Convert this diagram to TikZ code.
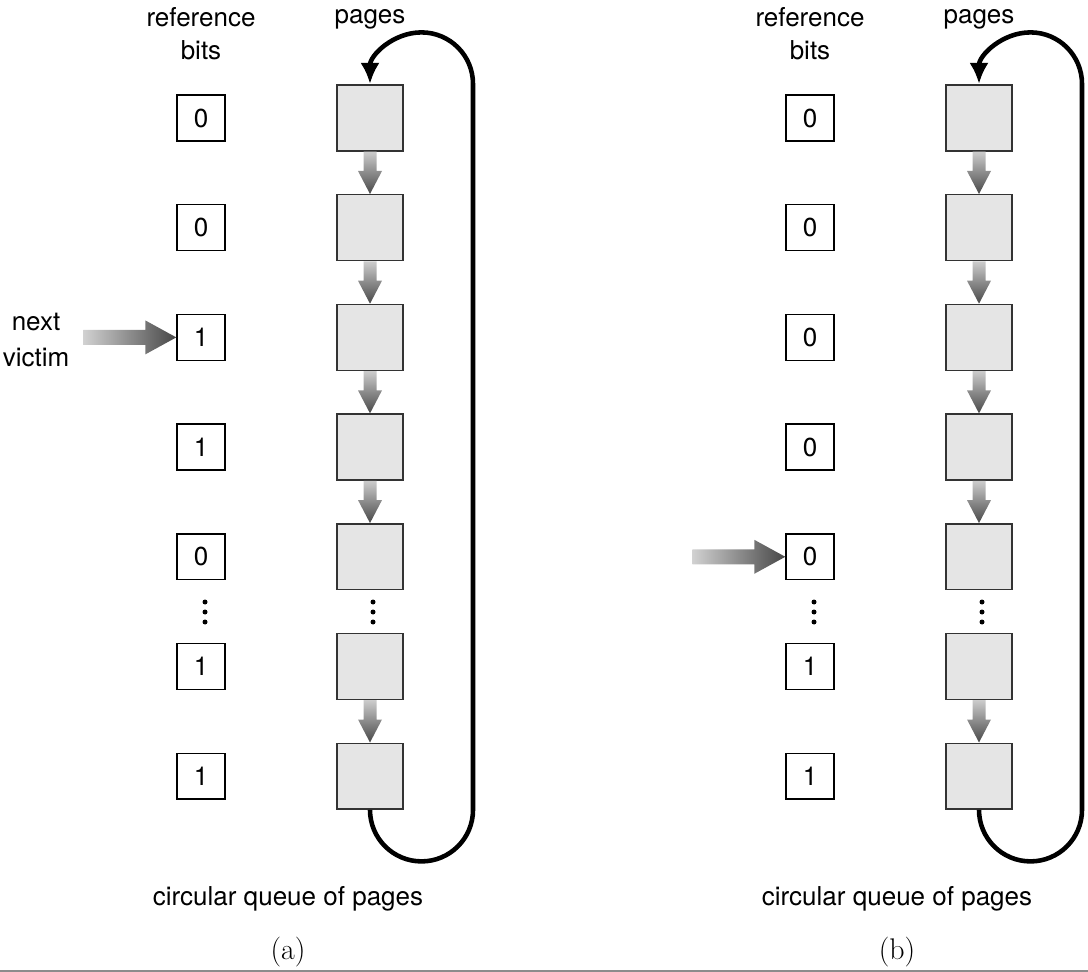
\documentclass[tikz,border=0pt]{standalone}
\usepackage{fontspec}
\newfontfamily\helv{TeX Gyre Heros}
\usetikzlibrary{calc,arrows.meta}

\begin{document}
\begin{tikzpicture}[x=0.02cm,y=-0.02cm,line width=0.5pt,
    sans/.style={font=\helv\fontsize{14.8}{17.6}\selectfont},
    bitbox/.style={sans,draw=black,line width=0.8pt,fill=white,inner sep=0pt,
      minimum width=0.96cm,minimum height=0.92cm},
    pagebox/.style={draw=black!80,line width=0.8pt,fill=black!10,inner sep=0pt,
      minimum width=1.32cm,minimum height=1.32cm},
    loopline/.style={line width=2.6pt,-{Latex[length=12pt,width=11pt]}},
    dnshade/.style={top color=black!20,bottom color=black!72,draw=none},
    rtshade/.style={left color=black!18,right color=black!72,draw=none}]
  \useasboundingbox (0,0) rectangle (1088,972);
  \foreach \dx/\pn/\bits/\vic in {0/a/{0,0,1,1,0,1,1}/2,609/b/{0,0,0,0,0,1,1}/4} {
    \node[sans,align=center] (hd-ref-\pn) at (201+\dx,34) {reference\\[1pt]bits};
    \node[sans,anchor=base] (hd-pg-\pn) at (370+\dx,24) {pages};
    \foreach \b [count=\i from 0] in \bits {
      \node[bitbox] (b-\pn-\i) at (201+\dx,118+109.7*\i) {\b};
      \node[pagebox] (p-\pn-\i) at (370+\dx,118+109.7*\i) {};
    }
    % links between pages
    \foreach \i/\j in {0/1,1/2,2/3,3/4,5/6}
      \shade[dnshade] ($(p-\pn-\i.south)+(-6.5,0)$) -- ($(p-\pn-\i.south)+(6.5,0)$)
        -- ($(p-\pn-\j.north)+(6.5,-23)$) -- ($(p-\pn-\j.north)+(12,-23)$)
        -- (p-\pn-\j.north) -- ($(p-\pn-\j.north)+(-12,-23)$)
        -- ($(p-\pn-\j.north)+(-6.5,-23)$) -- cycle;
    % dots
    \foreach \y in {602,612,622} {
      \fill (205+\dx,\y) circle (2.5);
      \fill (373+\dx,\y) circle (2.5);
    }
    % back to the head of the queue
    \draw[loopline] (p-\pn-6.south) arc[start angle=180,end angle=0,radius=51.5]
      -- ++(0,-726) arc[start angle=0,end angle=-180,radius=51.5];
    % pointer
    \shade[rtshade] ($(b-\pn-\vic.west)+(-93,-7.5)$) -- ($(b-\pn-\vic.west)+(-31,-7.5)$)
      -- ($(b-\pn-\vic.west)+(-31,-17)$) -- (b-\pn-\vic.west)
      -- ($(b-\pn-\vic.west)+(-31,17)$) -- ($(b-\pn-\vic.west)+(-31,7.5)$)
      -- ($(b-\pn-\vic.west)+(-93,7.5)$) -- cycle;
    \node[sans,anchor=base] (cq-\pn) at (288+\dx,905) {circular queue of pages};
    \node[font=\fontsize{17}{19}\selectfont,anchor=base] (cap-\pn) at (288+\dx,959) {(\pn)};
  }
  \node[sans,align=center] (victim) at (36,340) {next\\[3pt]victim};
  \draw[black!45,line width=1.2pt] (0,971) -- (1088,971);
\end{tikzpicture}
\end{document}
